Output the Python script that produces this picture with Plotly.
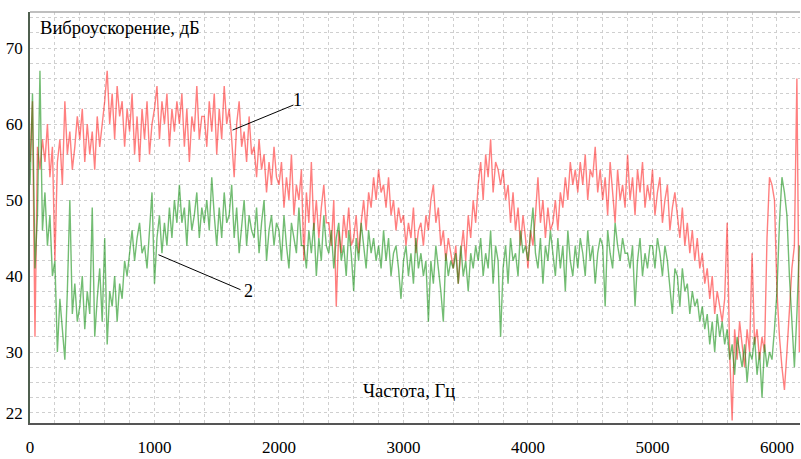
import plotly.graph_objects as go

# Frequency grid, Hz (sampling of the spectra)
freq = list(range(0, 6200, 20))

# Series 1 (red), dB
spec1 = [
    55, 63, 32, 57, 54, 58, 55, 60, 53, 57,
    42, 55, 58, 52, 63, 56, 59, 54, 57, 61,
    58, 62, 55, 60, 56, 59, 54, 61, 57, 60,
    63, 67, 60, 64, 58, 65, 61, 63, 57, 62,
    59, 64, 56, 61, 55, 62, 58, 63, 56, 60,
    62, 65, 58, 63, 60, 64, 57, 62, 59, 63,
    60, 64, 57, 62, 55, 61, 59, 65, 58, 61,
    61, 57, 63, 59, 64, 56, 62, 58, 65, 60,
    62, 58, 53, 60, 63, 57, 59, 55, 61, 56,
    57, 53, 58, 54, 56, 51, 55, 52, 57, 53,
    52, 55, 49, 53, 50, 56, 48, 52, 50, 54,
    42, 51, 47, 55, 46, 50, 45, 49, 52, 47,
    47, 44, 50, 36, 46, 43, 48, 45, 49, 44,
    45, 48, 43, 47, 50, 46, 51, 49, 53, 50,
    54, 51, 52, 49, 53, 48, 50, 46, 49, 47,
    48, 44, 47, 45, 49, 43, 46, 47, 44, 48,
    46, 50, 52, 47, 49, 44, 46, 42, 45, 43,
    41, 44, 39, 43, 46, 42, 48, 45, 50, 47,
    52, 55, 50, 56, 53, 58, 51, 55, 54, 52,
    54, 50, 52, 47, 51, 46, 49, 44, 48, 45,
    41, 46, 44, 48, 53, 47, 50, 45, 49, 46,
    47, 50, 46, 51, 49, 53, 50, 55, 52, 54,
    51, 55, 52, 56, 50, 54, 53, 57, 51, 54,
    50, 53, 48, 55, 51, 47, 54, 50, 52, 49,
    56, 50, 53, 48, 54, 51, 55, 49, 52, 50,
    54, 48, 51, 53, 47, 50, 52, 46, 49, 51,
    48, 45, 49, 44, 47, 43, 46, 42, 45, 41,
    43, 39, 41, 37, 40, 35, 38, 36, 34, 37,
    47, 30, 21, 33, 29, 34, 31, 28, 33, 30,
    43, 31, 33, 29, 32, 30, 45, 53, 52, 50,
    38, 32, 28, 25, 30, 36, 41, 44, 66, 30,
]

# Series 2 (green), dB
spec2 = [
    52, 64, 41, 48, 67, 46, 51, 44, 48, 40,
    42, 30, 37, 33, 29, 38, 50, 35, 39, 34,
    36, 40, 33, 38, 35, 49, 32, 37, 41, 34,
    45, 31, 38, 36, 40, 34, 39, 37, 42, 40,
    43, 46, 42, 45, 47, 43, 44, 41, 46, 51,
    39, 45, 48, 43, 47, 44, 49, 45, 50, 47,
    52, 47, 49, 44, 50, 46, 48, 51, 45, 49,
    47, 50, 46, 53, 48, 44, 49, 45, 51, 47,
    48, 52, 45, 49, 43, 47, 50, 44, 48, 46,
    45, 49, 43, 47, 50, 42, 46, 48, 44, 47,
    46, 42, 48, 44, 41, 47, 45, 43, 49, 44,
    44, 41, 46, 43, 47, 40, 45, 42, 48, 44,
    43, 46, 41, 45, 47, 42, 44, 40, 46, 43,
    38, 45, 42, 47, 44, 41, 46, 43, 45, 42,
    44, 41, 46, 42, 45, 40, 43, 44, 41, 37,
    42, 44, 40, 43, 39, 45, 41, 43, 40, 42,
    34, 42, 39, 44, 41, 38, 34, 43, 40, 42,
    41, 43, 39, 44, 40, 42, 38, 43, 41, 44,
    42, 45, 40, 43, 41, 46, 39, 44, 42, 32,
    41, 44, 39, 45, 42, 43, 40, 46, 43, 44,
    42, 46, 49, 43, 41, 45, 39, 44, 42, 46,
    43, 40, 45, 41, 44, 38, 46, 42, 40, 44,
    41, 45, 43, 40, 46, 42, 44, 39, 43, 45,
    44, 36, 46, 43, 41, 47, 44, 42, 45, 43,
    43, 41, 44, 36, 42, 45, 40, 43, 41, 44,
    44, 41, 45, 43, 40, 44, 42, 38, 35, 41,
    40, 36, 41, 38, 39, 35, 38, 36, 37, 34,
    36, 33, 35, 31, 34, 30, 35, 32, 34, 31,
    33, 29, 31, 27, 32, 30, 28, 31, 26, 30,
    29, 32, 27, 30, 24, 31, 28, 30, 29, 33,
    38, 47, 53, 51, 48, 40, 33, 28, 35, 44,
]

x_ticks = [0, 1000, 2000, 3000, 4000, 5000, 6000]
y_ticks = [22, 30, 40, 50, 60, 70]
y_title = "Виброускорение, дБ"
x_title = "Частота, Гц"

FONT = "Liberation Serif, Times New Roman, serif"

fig = go.Figure()
fig.add_trace(go.Scatter(x=freq, y=spec1, mode="lines",
                         line=dict(color="rgba(255,0,0,0.5)", width=1.4),
                         showlegend=False, hoverinfo="skip"))
fig.add_trace(go.Scatter(x=freq, y=spec2, mode="lines",
                         line=dict(color="rgba(0,135,0,0.55)", width=1.4),
                         showlegend=False, hoverinfo="skip"))

gc = "#cfcfcf"

fig.update_layout(
    width=801, height=459,
    margin=dict(l=30, r=1, t=12, b=36),
    paper_bgcolor="white", plot_bgcolor="white",
    font=dict(family=FONT, size=17, color="black"),
    xaxis=dict(range=[0, 6185], tickvals=x_ticks,
               ticks="outside", ticklen=8, tickcolor="rgba(0,0,0,0)",
               showgrid=True, gridcolor=gc, griddash="dot", gridwidth=1,
               minor=dict(dtick=200, tick0=0, showgrid=True, gridcolor=gc,
                          griddash="dot", gridwidth=1),
               showline=True, linecolor="#555555", linewidth=1.5,
               zeroline=False, tickfont=dict(size=17)),
    yaxis=dict(range=[20.66, 74.74], tickvals=y_ticks, ticks="",
               showgrid=True, gridcolor=gc, griddash="dot", gridwidth=1,
               minor=dict(dtick=2, tick0=0, showgrid=True, gridcolor=gc,
                          griddash="dot", gridwidth=1),
               showline=True, linecolor="#4f5f4f", linewidth=1.5,
               zeroline=False, ticklabelstandoff=2, tickfont=dict(size=17)),
    shapes=[
        dict(type="line", xref="paper", yref="paper", x0=0, x1=1, y0=1, y1=1,
             line=dict(color="#aaaaaa", width=1.5)),
        dict(type="line", xref="x", yref="y", x0=1627, y0=59.2, x1=2116, y1=62.5,
             line=dict(color="black", width=1)),
        dict(type="line", xref="x", yref="y", x0=1032, y0=42.8, x1=1691, y1=38.2,
             line=dict(color="black", width=1)),
    ],
    annotations=[
        dict(text=y_title, xref="paper", yref="paper", x=0.0105, y=0.9635,
             xanchor="left", yanchor="middle", showarrow=False,
             font=dict(family=FONT, size=18.6, color="black")),
        dict(text=x_title, xref="paper", yref="paper", x=0.43, y=0.08,
             xanchor="left", yanchor="middle", showarrow=False,
             font=dict(family=FONT, size=18.6, color="black")),
        dict(text="1", xref="x", yref="y", x=2149, y=63.2, showarrow=False,
             xanchor="center", yanchor="middle",
             font=dict(family=FONT, size=18, color="black")),
        dict(text="2", xref="x", yref="y", x=1755, y=38.0, showarrow=False,
             xanchor="center", yanchor="middle",
             font=dict(family=FONT, size=18, color="black")),
    ],
)

fig.write_html("out.html")
